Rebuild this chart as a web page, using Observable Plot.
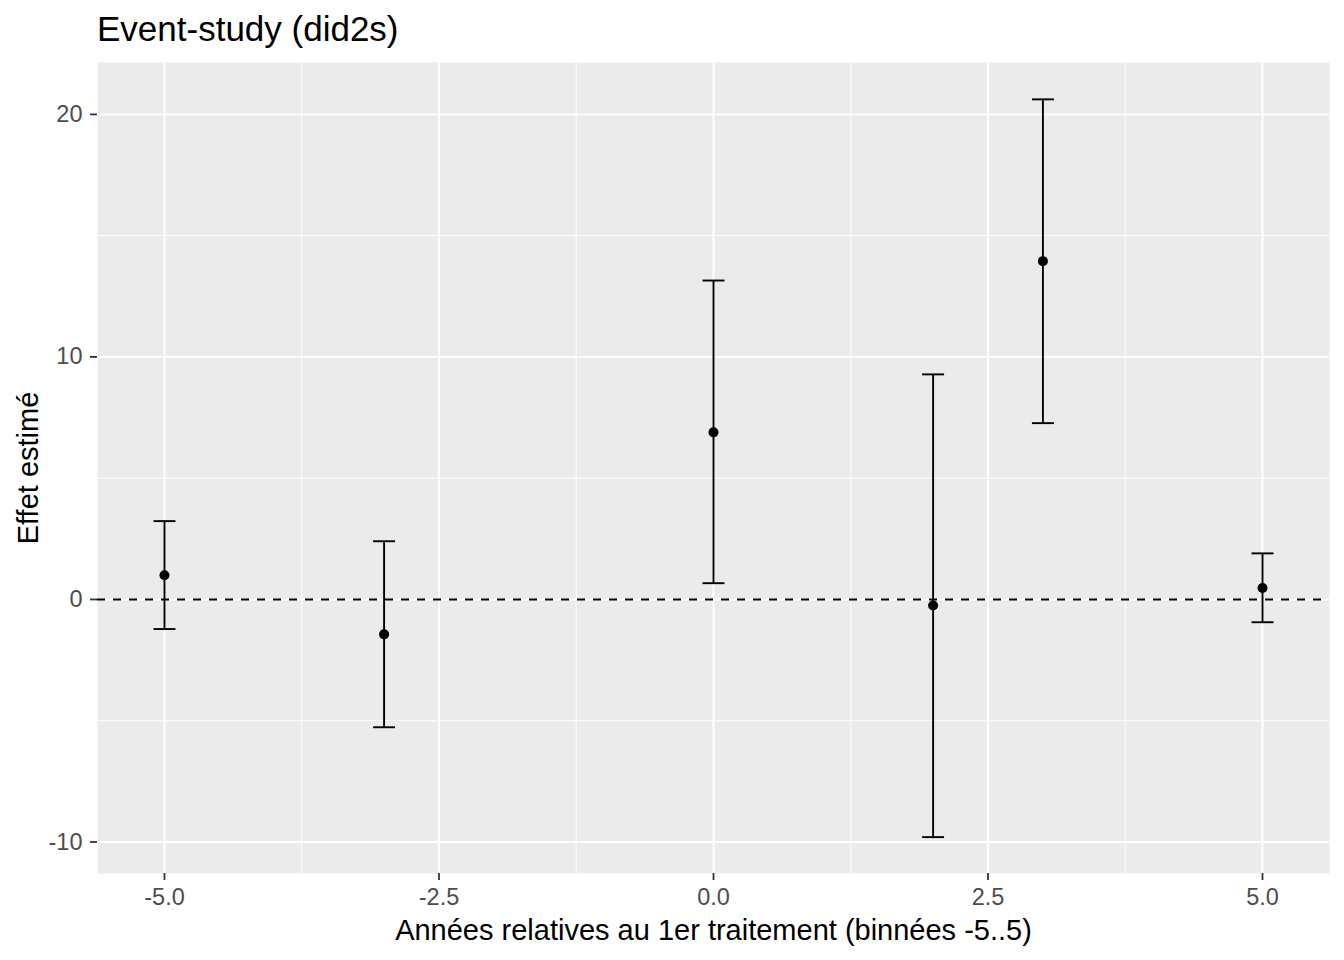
<!DOCTYPE html>
<html>
<head>
<meta charset="utf-8">
<script src="https://cdn.jsdelivr.net/npm/d3@7"></script>
<script src="https://cdn.jsdelivr.net/npm/@observablehq/plot@0.6"></script>
<style>
  html, body { margin: 0; padding: 0; background: #ffffff; }
  body { width: 1344px; height: 960px; overflow: hidden; font-family: "Liberation Sans", Arial, sans-serif; }
  #title { height: 52px; box-sizing: border-box; padding-left: 97px; padding-top: 11px; font-size: 35px; line-height: 1; color: #000; white-space: nowrap; }
  #chart svg { display: block; }
</style>
</head>
<body>
<div id="title">Event-study (did2s)</div>
<div id="chart"></div>
<script>
// Data
const periods   = [-5, -3, 0, 2, 3, 5];
const estimates = [1.00, -1.44, 6.89, -0.25, 13.95, 0.47];
const lower     = [-1.22, -5.27, 0.67, -9.80, 7.27, -0.94];
const upper     = [3.23, 2.40, 13.15, 9.28, 20.62, 1.90];

// Axis ticks
const xMajorTicks = [-5, -2.5, 0, 2.5, 5];
const xMinorTicks = [-3.75, -1.25, 1.25, 3.75];
const yMajorTicks = [-10, 0, 10, 20];
const yMinorTicks = [-5, 5, 15];

const xTitle = "Années relatives au 1er traitement (binnées -5..5)";
const yTitle = "Effet estimé";

const rows = periods.map((t, i) => ({t, est: estimates[i], lo: lower[i], hi: upper[i]}));
const capHalf = 0.1;
const fmtX = d => d3.format(".1f")(d).replace("\u2212", "-");
const fmtY = d => d3.format("d")(d).replace("\u2212", "-");

const chart = Plot.plot({
  width: 1344,
  height: 908,
  marginLeft: 97,
  marginRight: 15,
  marginTop: 10,
  marginBottom: 87,
  style: {fontFamily: "'Liberation Sans', Arial, sans-serif", background: "#ffffff"},
  x: {domain: [-5.61, 5.61]},
  y: {domain: [-11.30, 22.14]},
  marks: [
    Plot.frame({fill: "#EBEBEB", stroke: null}),
    Plot.ruleX(xMinorTicks, {stroke: "#ffffff", strokeWidth: 0.95}),
    Plot.ruleY(yMinorTicks, {stroke: "#ffffff", strokeWidth: 0.95}),
    Plot.ruleX(xMajorTicks, {stroke: "#ffffff", strokeWidth: 1.9}),
    Plot.ruleY(yMajorTicks, {stroke: "#ffffff", strokeWidth: 1.9}),
    Plot.ruleY([0], {stroke: "#000000", strokeWidth: 1.9, strokeDasharray: "8,8"}),
    Plot.ruleX(rows, {x: "t", y1: "lo", y2: "hi", stroke: "#000000", strokeWidth: 1.9}),
    Plot.link(rows, {x1: d => d.t - capHalf, x2: d => d.t + capHalf, y1: "hi", y2: "hi", stroke: "#000000", strokeWidth: 1.9}),
    Plot.link(rows, {x1: d => d.t - capHalf, x2: d => d.t + capHalf, y1: "lo", y2: "lo", stroke: "#000000", strokeWidth: 1.9}),
    Plot.dot(rows, {x: "t", y: "est", r: 5, fill: "#000000", stroke: null}),
    Plot.axisX({ticks: xMajorTicks, tickFormat: fmtX, label: null, tickSize: 7, tickPadding: 8,
      stroke: "#333333", fill: "#4D4D4D", strokeWidth: 1.8, fontSize: 23.5}),
    Plot.axisY({ticks: yMajorTicks, tickFormat: fmtY, label: null, tickSize: 7, tickPadding: 8,
      stroke: "#333333", fill: "#4D4D4D", strokeWidth: 1.8, fontSize: 23.5}),
    Plot.text([xTitle], {frameAnchor: "bottom", dy: 57, lineAnchor: "middle", textAnchor: "middle", fontSize: 29, fill: "#000000"}),
    Plot.text([yTitle], {frameAnchor: "left", dx: -69, rotate: -90, lineAnchor: "middle", textAnchor: "middle", fontSize: 29, fill: "#000000"})
  ]
});
document.getElementById("chart").appendChild(chart);
</script>
</body>
</html>
